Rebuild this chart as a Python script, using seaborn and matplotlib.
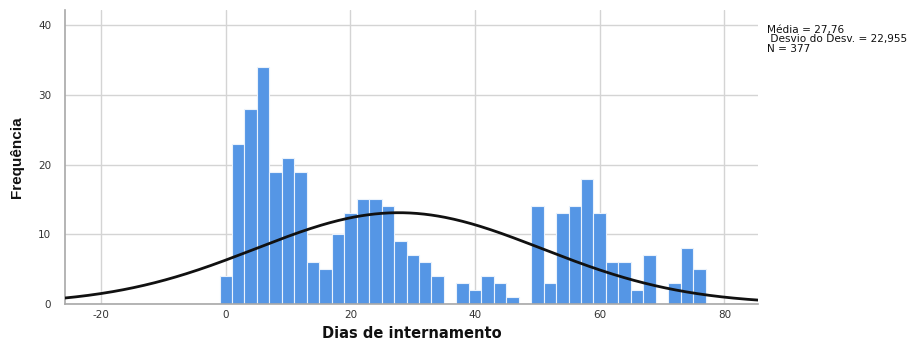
import numpy as np
import pandas as pd
import matplotlib
matplotlib.use("Agg")
import matplotlib.pyplot as plt
import seaborn as sns

# Length-of-stay histogram (2-day bins starting at -1)
bin_left = [-1, 1, 3, 5, 7, 9, 11, 13, 15, 17, 19, 21, 23, 25, 27, 29, 31, 33, 35,
            37, 39, 41, 43, 45, 47, 49, 51, 53, 55, 57, 59, 61, 63, 65, 67, 69, 71,
            73, 75]
counts = [4, 23, 28, 34, 19, 21, 19, 6, 5, 10, 13, 15, 15, 14, 9, 7, 6, 4, 0,
          3, 2, 4, 3, 1, 0, 14, 3, 13, 14, 18, 13, 6, 6, 2, 7, 0, 3,
          8, 5]
bin_width = 2
mean_val = 27.76
sd_val = 22.955
n_obs = 377

x_ticks = [-20, 0, 20, 40, 60, 80]
y_ticks = [0, 10, 20, 30, 40]

df = pd.DataFrame({"dias": np.array(bin_left) + bin_width / 2, "n": counts})
bin_range = (bin_left[0], bin_left[-1] + bin_width)

sns.set_style("white")
plt.rcParams["font.family"] = ["DejaVu Sans"]
plt.rcParams["axes.unicode_minus"] = False

fig = plt.figure(figsize=(9.2, 3.42), dpi=100)
ax = fig.add_axes([65 / 920, 38 / 342, 693 / 920, 294 / 342])

sns.histplot(data=df, x="dias", weights="n", binwidth=bin_width,
             binrange=bin_range, ax=ax,
             color="#5596E5", alpha=1.0, edgecolor="#EAF2FC", linewidth=0.8,
             zorder=2)

# Fitted normal curve scaled to counts per bin
xs = np.linspace(-26, 86, 400)
ys = n_obs * bin_width * np.exp(-0.5 * ((xs - mean_val) / sd_val) ** 2) / (sd_val * np.sqrt(2 * np.pi))
sns.lineplot(x=xs, y=ys, ax=ax, color="#111111", linewidth=2.0, zorder=3)

ax.set_xlim(-25.8, 85.4)
ax.set_ylim(0, 42.2)
ax.set_xticks(x_ticks)
ax.set_yticks(y_ticks)
ax.grid(True, color="#D4D4D4", linewidth=1.0, zorder=0)
ax.set_axisbelow(True)
for s in ["top", "right"]:
    ax.spines[s].set_visible(False)
for s in ["left", "bottom"]:
    ax.spines[s].set_color("#A8A8A8")
    ax.spines[s].set_linewidth(1.2)
ax.tick_params(axis="both", length=0, labelsize=7.5, labelcolor="#333333")
ax.tick_params(axis="y", pad=10)
ax.tick_params(axis="x", pad=4)

ax.set_xlabel("Dias de internamento", fontsize=10.5, fontweight="bold",
              labelpad=5, color="#111111")
ax.set_ylabel("Frequência", fontsize=11, fontweight="bold", labelpad=10,
              color="#111111", family="Liberation Sans",
              fontstretch="condensed")

fig.text(767 / 920, 1 - 25 / 342,
         "Média = 27,76\n Desvio do Desv. = 22,955\nN = 377",
         fontsize=7.6, va="top", ha="left", color="#111111", linespacing=0.92)

fig.savefig("out.png", dpi=100, facecolor="white")
